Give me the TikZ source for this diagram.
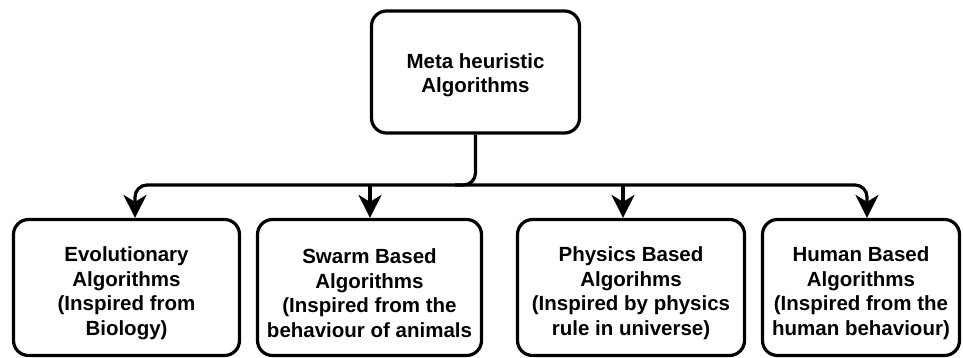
\documentclass[tikz,border=0pt]{standalone}
\usepackage{fontspec}
\setmainfont{Liberation Sans}
\usetikzlibrary{arrows.meta}
\begin{document}
\begin{tikzpicture}[x=1pt,y=-1pt,
  box/.style={draw,line width=3.2pt,rounded corners=15pt,inner sep=0pt},
  txt/.style={align=center,inner sep=0pt,font=\fontsize{20.5}{24.5}\selectfont\bfseries},
  conn/.style={line width=3.2pt,rounded corners=12pt},
  arr/.style={conn,-{Stealth[length=23pt,width=23pt,inset=7pt]}}]
\useasboundingbox (0,0) rectangle (963,358);
\node[box,minimum width=208pt,minimum height=122pt] (top) at (475.5,72) {};
\node[box,minimum width=226pt,minimum height=136pt] (b1) at (126.5,287.5) {};
\node[box,minimum width=224pt,minimum height=136pt] (b2) at (369.5,287.5) {};
\node[box,minimum width=227pt,minimum height=136pt] (b3) at (631,287.5) {};
\node[box,minimum width=197pt,minimum height=136pt] (b4) at (861,287.5) {};
\node[txt] (ttop) at (475.5,75) {Meta heuristic\\Algorithms};
\node[txt] (t1) at (126.5,293) {Evolutionary\\Algorithms\\(Inspired from\\Biology)};
\node[txt] (t2) at (369.5,293) {Swarm Based\\Algorithms\\(Inspired from the\\behaviour of animals};
\node[txt] (t3) at (631,293) {Physics Based\\Algorihms\\(Inspired by physics\\rule in universe)};
\node[txt] (t4) at (861,293) {Human Based\\Algorithms\\(Inspired from the\\human behaviour)};
\coordinate (j) at (475.5,185);
\coordinate (l) at (135,185);
\coordinate (r) at (867,185);
\coordinate (m2) at (370,185);
\coordinate (m3) at (623,185);
\coordinate (js) at (455,185);
\draw[arr] (top.south) -- (j) -- (l) -- (l |- b1.north);
\draw[arr] (js) -- (r) -- (r |- b4.north);
\draw[arr] (m2) -- (m2 |- b2.north);
\draw[arr] (m3) -- (m3 |- b3.north);
\end{tikzpicture}
\end{document}
